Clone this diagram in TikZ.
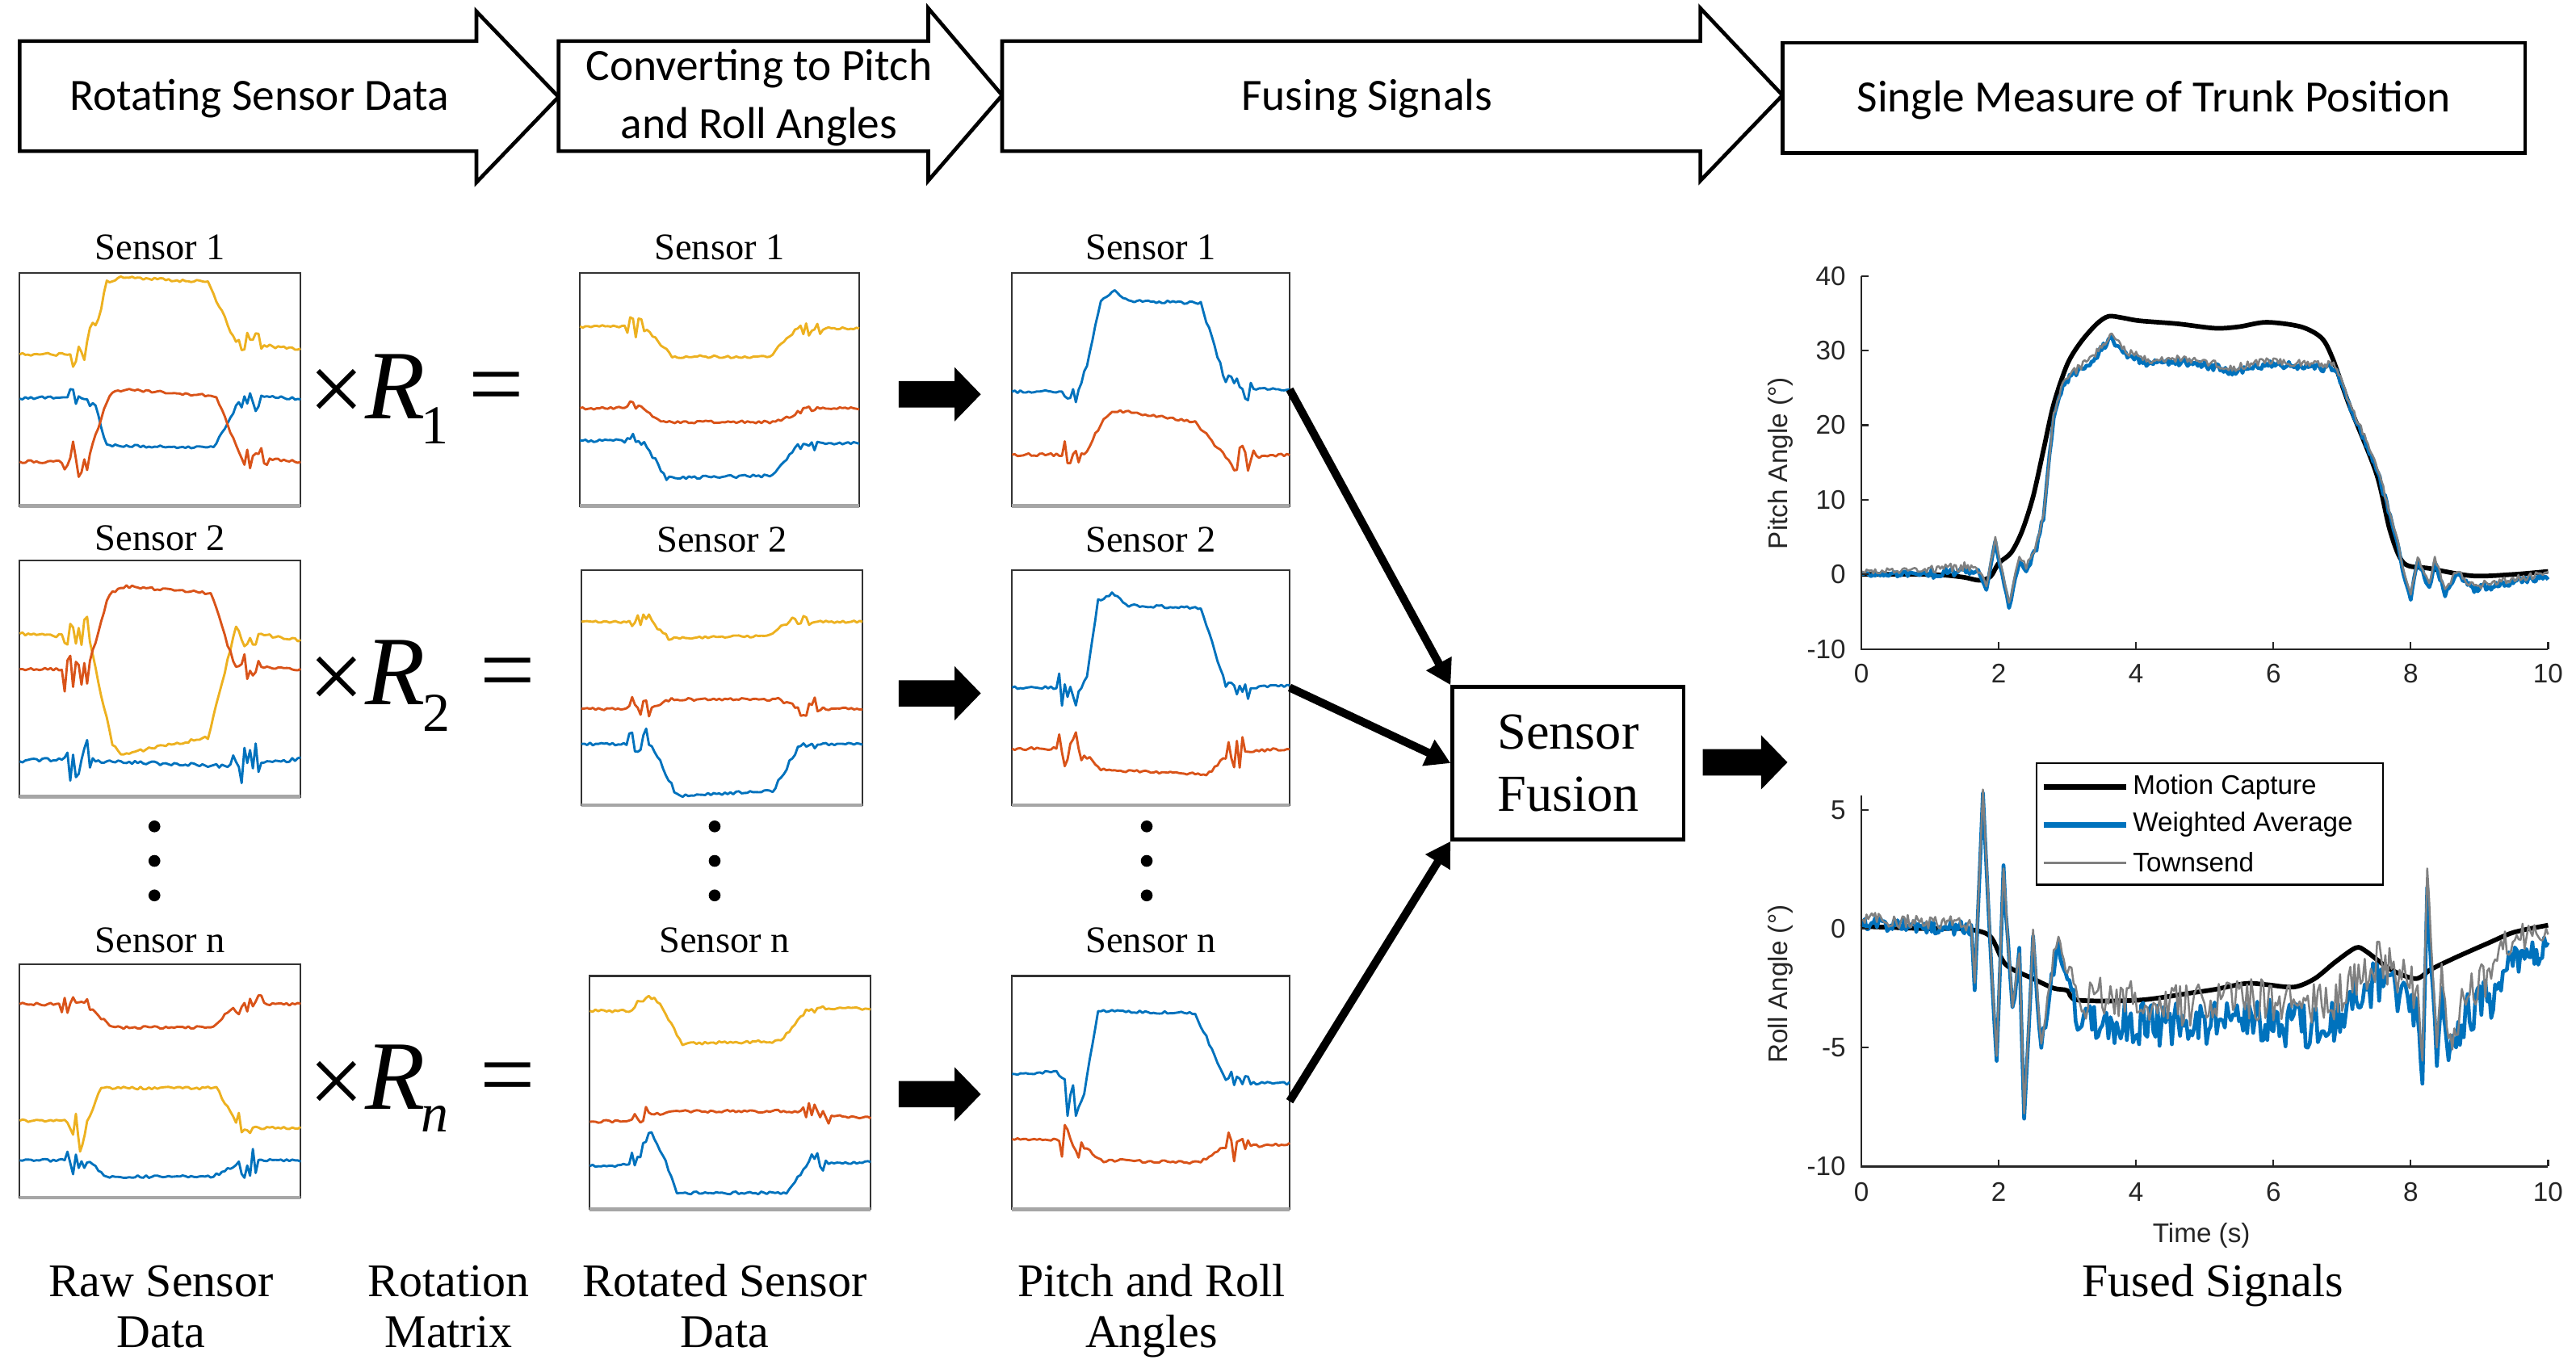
\documentclass[tikz,border=0pt]{standalone}
\usepackage{fontspec}
\setmainfont{Liberation Serif}
\newfontfamily\calib{Carlito}
\newfontfamily\arial{Liberation Sans}
\usetikzlibrary{arrows.meta}
\definecolor{mblue}{HTML}{0072BD}
\definecolor{mred}{HTML}{D95319}
\definecolor{myel}{HTML}{EDB120}
\definecolor{mgray}{HTML}{808080}
\definecolor{axc}{HTML}{262626}
\tikzset{
 banner/.style={draw=black, line width=1.3pt, fill=white, line join=miter},
 bantext/.style={font=\calib\fontsize{15.5}{20.4}\selectfont, inner sep=0pt, align=center},
 panelbox/.style={draw=black!80, line width=0.6pt, inner sep=0pt, outer sep=0pt},
 panelbottom/.style={draw=black!35, line width=1.3pt},
 sigline/.style={line width=0.8pt, line join=round},
 slabel/.style={font=\fontsize{13}{13}\selectfont, inner sep=0pt},
 blabel/.style={font=\fontsize{16.2}{16.2}\selectfont, inner sep=0pt},
 bigm/.style={font=\fontsize{34}{34}\selectfont, inner sep=0pt},
 subm/.style={font=\fontsize{19}{19}\selectfont, inner sep=0pt},
 conn/.style={line width=2.8pt, -{Triangle[length=8.5pt,width=9.5pt]}},
 axisc/.style={draw=axc, line width=0.6pt},
 ticklab/.style={font=\arial\fontsize{9.3}{9.3}\selectfont, text=axc, inner sep=0pt},
 mcline/.style={black, line width=1.6pt, line join=round},
 waline/.style={mblue, line width=1.3pt, line join=round},
 tsline/.style={mgray, line width=0.7pt, line join=round},
}
% noisy piecewise-linear signal: style, start point, offset, segment list
\newcommand{\nsig}[4]{%
  \draw[#1] #2 \foreach \ta/\va/\tb/\vb/\nn/\am in #4 {
    \foreach \k in {1,...,\nn} {
      -- ({\ta+(\tb-\ta)*\k/\nn},{\va+(\vb-(\va))*\k/\nn+\am*rand+#3})
    }
  };}
\newcommand{\mypanel}[5]{%
  \node[panelbox, minimum width=#4*0.02cm, minimum height=#5*0.02cm, anchor=north west] (#1) at (#2,#3) {};
  \draw[panelbottom] (#1.south west) -- (#1.south east);}
% block arrow: x, y (centre line), shaft length
\newcommand{\blockarr}[3]{\fill[black] (#1,#2) ++(0,-8) -- ++(#3,0) -- ++(0,-8.5) -- ++(16,16.5) -- ++(-16,16.5) -- ++(0,-8.5) -- ++(-#3,0) -- cycle;}
\newcommand{\pitchsegs}{0/0/1.0/0.1/40/0.35, 1.0/0.1/1.5/0.6/20/0.7, 1.5/0.6/1.7/0.2/8/0.5, 1.7/0.2/1.82/-1.8/4/0.3, 1.82/-1.8/1.95/4.3/4/0.3, 1.95/4.3/2.05/0/3/0.3, 2.05/0/2.15/-4.5/3/0.3, 2.15/-4.5/2.3/2/5/0.4, 2.3/2/2.4/0.5/3/0.4, 2.4/0.5/2.55/3.5/5/0.5, 2.55/3.5/2.65/7.7/4/0.5, 2.65/7.7/2.8/21/5/0.5, 2.8/21/2.96/25.9/6/0.5, 2.96/25.9/3.2/27.4/10/0.5, 3.2/27.4/3.43/29.3/9/0.5, 3.43/29.3/3.62/31.7/8/0.5, 3.62/31.7/3.9/29.3/11/0.5, 3.9/29.3/4.2/28.2/12/0.5, 4.2/28.2/4.5/28.6/12/0.5, 4.5/28.6/5.15/27.8/26/0.5, 5.15/27.8/5.4/27.2/10/0.5, 5.4/27.2/5.9/28.2/20/0.5, 5.9/28.2/6.9/27.6/40/0.5, 6.9/27.6/7.1/22.8/8/0.4, 7.1/22.8/7.5/14.3/16/0.4, 7.5/14.3/7.8/4.6/12/0.4, 7.8/4.6/7.9/0/4/0.4, 7.9/0/8.0/-3.3/4/0.3, 8.0/-3.3/8.1/1.9/4/0.3, 8.1/1.9/8.27/-2/7/0.4, 8.27/-2/8.35/1.9/3/0.3, 8.35/1.9/8.5/-2.7/6/0.4, 8.5/-2.7/8.66/0/6/0.4, 8.66/0/8.9/-2/10/0.5, 8.9/-2/9.44/-1.2/22/0.5, 9.44/-1.2/10/-0.3/22/0.5}
\newcommand{\rollsegs}{0/0.2/1.6/0/64/0.3, 1.6/0/1.65/-2.5/2/0.1, 1.65/-2.5/1.77/5.7/3/0.1, 1.77/5.7/1.9/-2/3/0.2, 1.9/-2/1.97/-5.6/2/0.1, 1.97/-5.6/2.07/2.5/3/0.2, 2.07/2.5/2.2/-3.6/4/0.3, 2.2/-3.6/2.3/-1/3/0.3, 2.3/-1/2.37/-8/2/0.1, 2.37/-8/2.5/-0.5/4/0.3, 2.5/-0.5/2.62/-5/4/0.3, 2.62/-5/2.8/-1.5/6/0.5, 2.8/-1.5/2.87/-0.5/2/0.2, 2.87/-0.5/3.0/-2/5/0.5, 3.0/-2/3.15/-3.8/5/0.6, 3.15/-3.8/4.7/-4.1/52/0.95, 4.7/-4.1/5.5/-3.8/27/0.95, 5.5/-3.8/6.5/-4.1/34/0.95, 6.5/-4.1/7.0/-3.7/17/0.95, 7.0/-3.7/7.45/-2.3/15/0.95, 7.45/-2.3/7.75/-2.6/10/0.95, 7.75/-2.6/8.1/-3.5/12/0.9, 8.1/-3.5/8.17/-6.5/3/0.2, 8.17/-6.5/8.24/1.6/3/0.2, 8.24/1.6/8.38/-5.6/5/0.3, 8.38/-5.6/8.45/-2.5/3/0.3, 8.45/-2.5/8.55/-5.7/4/0.3, 8.55/-5.7/8.8/-3.7/9/0.8, 8.8/-3.7/9.2/-2.8/14/0.9, 9.2/-2.8/9.4/-1.5/7/0.7, 9.4/-1.5/10/-0.8/21/0.6}
\begin{document}
\begin{tikzpicture}[x=0.02cm,y=-0.02cm]
\pgfmathsetseed{4711}
\useasboundingbox[fill=white] (0,0) rectangle (1568,830);

% ---------- top banner ----------
\draw[banner] (12,25) -- (290,25) -- (290,7) -- (340,59) -- (290,111) -- (290,92) -- (12,92) -- cycle;
\draw[banner] (340,25) -- (565,25) -- (565,5) -- (610,58) -- (565,110) -- (565,92) -- (340,92) -- cycle;
\draw[banner] (610,25) -- (1035,25) -- (1035,5) -- (1085,58) -- (1035,110) -- (1035,92) -- (610,92) -- cycle;
\draw[banner] (1085,26) rectangle (1537,93);
\node[bantext, anchor=base] (t1) at (158,67) {Rotating Sensor Data};
\node[bantext] (t2) at (462,59.5) {Converting to Pitch\\and Roll Angles};
\node[bantext, anchor=base] (t3) at (832,67) {Fusing Signals};
\node[bantext, anchor=base] (t4) at (1311,68) {Single Measure of Trunk Position};

% ---------- panels ----------
\mypanel{raw1}{12}{166}{171}{142}
\mypanel{raw2}{12}{341}{171}{144}
\mypanel{rawn}{12}{587}{171}{142}
\mypanel{rot1}{353}{166}{170}{142}
\mypanel{rot2}{354}{347}{171}{143}
\mypanel{rotn}{359}{594}{171}{142}
\mypanel{pr1}{616}{166}{169}{142}
\mypanel{pr2}{616}{347}{169}{143}
\mypanel{prn}{616}{594}{169}{142}

% raw sensor 1
\begin{scope}[shift={(12,166)},xscale=171,yscale=142]
\nsig{sigline,myel}{(0,0.35)}{0}{{0/0.35/0.17/0.35/17/0.006, 0.17/0.35/0.23/0.36/6/0.06, 0.23/0.36/0.25/0.24/2/0.01, 0.25/0.24/0.28/0.2/3/0.02, 0.28/0.2/0.31/0.04/3/0.01, 0.31/0.04/0.36/0.02/5/0.008, 0.36/0.02/0.67/0.04/31/0.006, 0.67/0.04/0.77/0.30/10/0.008, 0.77/0.30/0.86/0.31/9/0.05, 0.86/0.31/1/0.33/14/0.007}}
\nsig{sigline,mblue}{(0,0.54)}{0}{{0/0.54/0.17/0.53/17/0.006, 0.17/0.53/0.26/0.53/9/0.05, 0.26/0.53/0.31/0.74/5/0.01, 0.31/0.74/0.69/0.75/38/0.006, 0.69/0.75/0.78/0.55/9/0.01, 0.78/0.55/0.86/0.53/8/0.06, 0.86/0.53/1/0.54/14/0.006}}
\nsig{sigline,mred}{(0,0.81)}{0}{{0/0.81/0.15/0.81/15/0.006, 0.15/0.81/0.24/0.81/9/0.09, 0.24/0.81/0.32/0.52/8/0.01, 0.32/0.52/0.37/0.5/5/0.006, 0.37/0.5/0.7/0.53/33/0.006, 0.7/0.53/0.79/0.8/9/0.01, 0.79/0.8/0.88/0.8/9/0.05, 0.88/0.8/1/0.81/12/0.006}}
\end{scope}
% rotated sensor 1
\begin{scope}[shift={(353,166)},xscale=170,yscale=142]
\nsig{sigline,myel}{(0,0.23)}{0}{{0/0.23/0.15/0.23/15/0.006, 0.15/0.23/0.23/0.23/8/0.05, 0.23/0.23/0.33/0.36/10/0.01, 0.33/0.36/0.68/0.36/35/0.006, 0.68/0.36/0.77/0.25/9/0.008, 0.77/0.25/0.86/0.24/9/0.03, 0.86/0.24/1/0.24/14/0.006}}
\nsig{sigline,mred}{(0,0.58)}{0}{{0/0.58/0.15/0.58/15/0.006, 0.15/0.58/0.22/0.58/7/0.035, 0.22/0.58/0.3/0.64/8/0.008, 0.3/0.64/0.7/0.64/40/0.006, 0.7/0.64/0.78/0.6/8/0.008, 0.78/0.6/0.84/0.58/6/0.025, 0.84/0.58/1/0.58/16/0.006}}
\nsig{sigline,mblue}{(0,0.72)}{0}{{0/0.72/0.15/0.72/15/0.006, 0.15/0.72/0.22/0.71/7/0.04, 0.22/0.71/0.31/0.88/9/0.01, 0.31/0.88/0.69/0.87/38/0.006, 0.69/0.87/0.78/0.74/9/0.008, 0.78/0.74/0.84/0.73/6/0.045, 0.84/0.73/1/0.73/16/0.006}}
\end{scope}
% pitch/roll 1
\begin{scope}[shift={(616,166)},xscale=169,yscale=142]
\nsig{sigline,mblue}{(0,0.51)}{0}{{0/0.51/0.17/0.51/17/0.006, 0.17/0.51/0.23/0.53/6/0.06, 0.23/0.53/0.27/0.4/4/0.01, 0.27/0.4/0.32/0.12/5/0.008, 0.32/0.12/0.37/0.08/5/0.008, 0.37/0.08/0.42/0.12/5/0.006, 0.42/0.12/0.68/0.13/26/0.006, 0.68/0.13/0.77/0.47/9/0.01, 0.77/0.47/0.86/0.5/9/0.06, 0.86/0.5/1/0.5/14/0.006}}
\nsig{sigline,mred}{(0,0.78)}{0}{{0/0.78/0.17/0.78/17/0.006, 0.17/0.78/0.26/0.8/9/0.07, 0.26/0.8/0.33/0.62/7/0.01, 0.33/0.62/0.38/0.59/5/0.008, 0.38/0.59/0.66/0.64/28/0.007, 0.66/0.64/0.78/0.8/12/0.01, 0.78/0.8/0.87/0.79/9/0.06, 0.87/0.79/1/0.78/13/0.006}}
\end{scope}
% raw sensor 2
\begin{scope}[shift={(12,341)},xscale=171,yscale=144]
\nsig{sigline,myel}{(0,0.31)}{0}{{0/0.31/0.15/0.32/15/0.007, 0.15/0.32/0.24/0.3/9/0.08, 0.24/0.3/0.33/0.78/9/0.01, 0.33/0.78/0.36/0.82/3/0.008, 0.36/0.82/0.67/0.75/31/0.007, 0.67/0.75/0.76/0.33/9/0.01, 0.76/0.33/0.84/0.31/8/0.05, 0.84/0.31/1/0.34/16/0.007}}
\nsig{sigline,mred}{(0,0.46)}{0}{{0/0.46/0.15/0.46/15/0.006, 0.15/0.46/0.24/0.47/9/0.1, 0.24/0.47/0.32/0.14/8/0.01, 0.32/0.14/0.37/0.11/5/0.008, 0.37/0.11/0.68/0.14/31/0.006, 0.68/0.14/0.77/0.46/9/0.01, 0.77/0.46/0.86/0.45/9/0.06, 0.86/0.45/1/0.46/14/0.006}}
\nsig{sigline,mblue}{(0,0.85)}{0}{{0/0.85/0.16/0.84/16/0.008, 0.16/0.84/0.26/0.85/10/0.09, 0.26/0.85/0.75/0.87/49/0.008, 0.75/0.87/0.85/0.86/10/0.09, 0.85/0.86/1/0.84/15/0.008}}
\end{scope}
% rotated sensor 2
\begin{scope}[shift={(354,347)},xscale=171,yscale=143]
\nsig{sigline,myel}{(0,0.22)}{0}{{0/0.22/0.17/0.22/17/0.005, 0.17/0.22/0.24/0.21/7/0.025, 0.24/0.21/0.31/0.29/7/0.008, 0.31/0.29/0.66/0.28/35/0.005, 0.66/0.28/0.74/0.22/8/0.008, 0.74/0.22/0.82/0.22/8/0.025, 0.82/0.22/1/0.22/18/0.005}}
\nsig{sigline,mred}{(0,0.59)}{0}{{0/0.59/0.16/0.59/16/0.006, 0.16/0.59/0.24/0.59/8/0.05, 0.24/0.59/0.32/0.55/8/0.008, 0.32/0.55/0.7/0.55/38/0.006, 0.7/0.55/0.76/0.58/6/0.008, 0.76/0.58/0.84/0.59/8/0.05, 0.84/0.59/1/0.59/16/0.006}}
\nsig{sigline,mblue}{(0,0.74)}{0}{{0/0.74/0.16/0.74/16/0.006, 0.16/0.74/0.24/0.72/8/0.06, 0.24/0.72/0.33/0.94/9/0.01, 0.33/0.94/0.35/0.96/2/0.006, 0.35/0.96/0.68/0.94/33/0.006, 0.68/0.94/0.78/0.74/10/0.01, 0.78/0.74/0.84/0.74/6/0.02, 0.84/0.74/1/0.74/16/0.006}}
\end{scope}
% pitch/roll 2
\begin{scope}[shift={(616,347)},xscale=169,yscale=143]
\nsig{sigline,mblue}{(0,0.5)}{0}{{0/0.5/0.16/0.5/16/0.006, 0.16/0.5/0.24/0.53/8/0.08, 0.24/0.53/0.27/0.45/3/0.01, 0.27/0.45/0.31/0.13/4/0.008, 0.31/0.13/0.36/0.1/5/0.006, 0.36/0.1/0.42/0.15/6/0.006, 0.42/0.15/0.68/0.16/26/0.006, 0.68/0.16/0.77/0.49/9/0.01, 0.77/0.49/0.85/0.5/8/0.05, 0.85/0.5/1/0.49/15/0.006}}
\nsig{sigline,mred}{(0,0.76)}{0}{{0/0.76/0.16/0.76/16/0.006, 0.16/0.76/0.25/0.77/9/0.08, 0.25/0.77/0.32/0.85/7/0.01, 0.32/0.85/0.7/0.87/38/0.006, 0.7/0.87/0.77/0.8/7/0.01, 0.77/0.8/0.85/0.77/8/0.07, 0.85/0.77/1/0.76/15/0.006}}
\end{scope}
% raw sensor n
\begin{scope}[shift={(12,587)},xscale=171,yscale=142]
\nsig{sigline,mred}{(0,0.17)}{0}{{0/0.17/0.14/0.17/14/0.006, 0.14/0.17/0.24/0.18/10/0.04, 0.24/0.18/0.33/0.27/9/0.008, 0.33/0.27/0.68/0.27/35/0.006, 0.68/0.27/0.76/0.19/8/0.008, 0.76/0.19/0.86/0.17/10/0.04, 0.86/0.17/1/0.17/14/0.006}}
\nsig{sigline,myel}{(0,0.67)}{0}{{0/0.67/0.16/0.67/16/0.006, 0.16/0.67/0.19/0.72/3/0.01, 0.19/0.72/0.2/0.64/1/0, 0.2/0.64/0.215/0.81/2/0.01, 0.215/0.81/0.24/0.68/3/0.01, 0.24/0.68/0.29/0.53/5/0.008, 0.29/0.53/0.7/0.53/41/0.006, 0.7/0.53/0.77/0.67/7/0.01, 0.77/0.67/0.83/0.7/6/0.04, 0.83/0.7/1/0.7/17/0.006}}
\nsig{sigline,mblue}{(0,0.84)}{0}{{0/0.84/0.16/0.84/16/0.006, 0.16/0.84/0.25/0.85/9/0.06, 0.25/0.85/0.31/0.91/6/0.008, 0.31/0.91/0.69/0.91/38/0.006, 0.69/0.91/0.78/0.85/9/0.008, 0.78/0.85/0.84/0.84/6/0.07, 0.84/0.84/1/0.84/16/0.006}}
\end{scope}
% rotated sensor n
\begin{scope}[shift={(359,594)},xscale=171,yscale=142]
\nsig{sigline,myel}{(0,0.15)}{0}{{0/0.15/0.14/0.15/14/0.006, 0.14/0.15/0.21/0.08/7/0.02, 0.21/0.08/0.25/0.12/4/0.01, 0.25/0.12/0.33/0.29/8/0.008, 0.33/0.29/0.68/0.28/35/0.006, 0.68/0.28/0.77/0.15/9/0.008, 0.77/0.15/0.84/0.14/7/0.02, 0.84/0.14/1/0.14/16/0.006}}
\nsig{sigline,mred}{(0,0.625)}{0}{{0/0.625/0.15/0.62/15/0.006, 0.15/0.62/0.22/0.6/7/0.05, 0.22/0.6/0.3/0.58/8/0.008, 0.3/0.58/0.75/0.58/45/0.006, 0.75/0.58/0.85/0.6/10/0.05, 0.85/0.6/1/0.61/15/0.006}}
\nsig{sigline,mblue}{(0,0.815)}{0}{{0/0.815/0.14/0.81/14/0.006, 0.14/0.81/0.22/0.7/8/0.05, 0.22/0.7/0.26/0.76/4/0.02, 0.26/0.76/0.31/0.93/5/0.008, 0.31/0.93/0.7/0.93/39/0.006, 0.7/0.93/0.78/0.8/8/0.008, 0.78/0.8/0.84/0.8/6/0.05, 0.84/0.8/1/0.8/16/0.006}}
\end{scope}
% pitch/roll n
\begin{scope}[shift={(616,594)},xscale=169,yscale=142]
\nsig{sigline,mblue}{(0,0.42)}{0}{{0/0.42/0.16/0.41/16/0.006, 0.16/0.41/0.19/0.44/3/0.01, 0.19/0.44/0.2/0.6/1/0, 0.2/0.6/0.22/0.45/2/0.02, 0.22/0.45/0.23/0.6/1/0, 0.23/0.6/0.26/0.5/3/0.01, 0.26/0.5/0.31/0.15/5/0.008, 0.31/0.15/0.66/0.16/35/0.006, 0.66/0.16/0.77/0.45/11/0.01, 0.77/0.45/0.85/0.46/8/0.06, 0.85/0.46/1/0.46/15/0.006}}
\nsig{sigline,mred}{(0,0.7)}{0}{{0/0.7/0.16/0.7/16/0.006, 0.16/0.7/0.25/0.73/9/0.08, 0.25/0.73/0.33/0.79/8/0.01, 0.33/0.79/0.68/0.8/35/0.006, 0.68/0.8/0.76/0.74/8/0.01, 0.76/0.74/0.85/0.73/9/0.07, 0.85/0.73/1/0.72/15/0.006}}
\end{scope}

% ---------- sensor labels ----------
\node[slabel, anchor=base] (lraw1) at (97.5,158) {Sensor 1};
\node[slabel, anchor=base] (lraw2) at (97.5,335) {Sensor 2};
\node[slabel, anchor=base] (lrawn) at (97.5,580) {Sensor n};
\node[slabel, anchor=base] (lrot1) at (438,158) {Sensor 1};
\node[slabel, anchor=base] (lrot2) at (439.5,336) {Sensor 2};
\node[slabel, anchor=base] (lrotn) at (441,580) {Sensor n};
\node[slabel, anchor=base] (lpr1) at (700.5,158) {Sensor 1};
\node[slabel, anchor=base] (lpr2) at (700.5,336) {Sensor 2};
\node[slabel, anchor=base] (lprn) at (700.5,580) {Sensor n};

% dots
\foreach \xx in {94,435,698}{
  \foreach \yy in {503,524,545}{
    \fill (\xx,\yy) circle[radius=3.6];
  }
}

% ---------- x R = ----------
\node[bigm] (x1) at (205,241) {×};
\node[bigm, anchor=base west] (r1) at (222,255) {\textit{R}};
\node[subm, anchor=base west] (s1) at (256,270) {1};
\node[bigm] (e1) at (302,240) {=};
\node[bigm] (x2) at (205,416) {×};
\node[bigm, anchor=base west] (r2) at (222,429) {\textit{R}};
\node[subm, anchor=base west] (s2) at (257,445) {2};
\node[bigm] (e2) at (309,414) {=};
\node[bigm] (xn) at (205,662) {×};
\node[bigm, anchor=base west] (rn) at (222,675) {\textit{R}};
\node[subm, anchor=base west] (sn) at (256,689) {\textit{n}};
\node[bigm] (en) at (309,660.5) {=};

% ---------- block arrows ----------
\blockarr{547}{240}{34}
\blockarr{547}{422}{34}
\blockarr{547}{666}{34}
\blockarr{1036.5}{464}{35.5}

% ---------- sensor fusion ----------
\node[draw, line width=1.2pt, minimum width=2.82cm, minimum height=1.86cm, align=center,
      font=\fontsize{18}{21.5}\selectfont, inner sep=0pt] (fus) at (954.5,464.5) {Sensor\\Fusion};
\draw[conn] (pr1.east) -- (fus.north west);
\draw[conn] (pr2.east) -- (fus.west);
\draw[conn] ([yshift=-3pt]prn.east) -- (fus.south west);

% ---------- bottom labels ----------
\node[blabel, anchor=base] (b1a) at (98,789) {Raw Sensor};
\node[blabel, anchor=base] (b1b) at (98,820) {Data};
\node[blabel, anchor=base] (b2a) at (273,789) {Rotation};
\node[blabel, anchor=base] (b2b) at (273,820) {Matrix};
\node[blabel, anchor=base] (b3a) at (441,789) {Rotated Sensor};
\node[blabel, anchor=base] (b3b) at (441,820) {Data};
\node[blabel, anchor=base] (b4a) at (701,789) {Pitch and Roll};
\node[blabel, anchor=base] (b4b) at (701,820) {Angles};
\node[blabel, anchor=base] (b5) at (1347,789) {Fused Signals};

% ---------- pitch plot ----------
\begin{scope}[shift={(1133,349.6)},xscale=41.8,yscale=-4.54]
\draw[mcline] plot[smooth] coordinates {(0,0) (0.8,0) (1.2,-0.1) (1.5,-0.4) (1.72,-0.8) (1.88,-0.3) (2.0,1.5) (2.18,2.9) (2.34,5.8) (2.5,10.4) (2.65,16.6) (2.8,22.8) (3.0,28.2) (3.2,31.2) (3.43,33.6) (3.6,34.6) (3.8,34.4) (4.05,34) (4.6,33.6) (5.15,33) (5.5,33.2) (5.9,33.8) (6.4,33.2) (6.7,31.7) (6.86,29) (7.1,22.8) (7.5,13.5) (7.7,5.8) (7.9,1.5) (8.27,0.8) (8.9,-0.2) (9.5,0.0) (10,0.4)};
\nsig{waline}{(0,0)}{0}{\pitchsegs}
\nsig{tsline}{(0,0.4)}{0.45}{\pitchsegs}
\draw[axisc] (0,40) -- (0,-10) -- (10,-10);
\foreach \v in {-10,0,10,20,30,40}{
  \draw[axisc] (0,\v) -- (0.1,\v);
  \node[ticklab, anchor=east] (py\v) at (-0.22,\v) {\v};
}
\foreach \u in {0,2,4,6,8,10}{
  \draw[axisc] (\u,-10) -- (\u,-9.1);
  \node[ticklab, anchor=north] (px\u) at (\u,-12) {\u};
}
\end{scope}
\node[ticklab, rotate=90] (plab) at (1084,282) {Pitch Angle (°)};

% ---------- roll plot ----------
\begin{scope}[shift={(1133,565.3)},xscale=41.8,yscale=-14.47]
\draw[mcline] plot[smooth] coordinates {(0,0.1) (0.5,0.05) (1.0,0.0) (1.5,0.0) (1.87,-0.3) (2.1,-1.5) (2.5,-2.1) (2.8,-2.5) (3.0,-2.6) (3.15,-3.0) (4.05,-3.0) (4.8,-2.7) (5.15,-2.55) (5.6,-2.3) (5.9,-2.35) (6.3,-2.45) (6.6,-2.1) (6.9,-1.4) (7.2,-0.8) (7.35,-0.95) (7.7,-1.7) (8.07,-2.1) (8.3,-1.7) (8.66,-1.2) (9.13,-0.6) (9.5,-0.15) (10,0.15)};
\nsig{waline}{(0,0.2)}{0}{\rollsegs}
\nsig{tsline}{(0,0.35)}{0.2+0.7*(\ta>2.95)*(\ta<9.5)}{\rollsegs}
\draw[axisc] (0,5.6) -- (0,-10) -- (10,-10);
\foreach \v in {-10,-5,0,5}{
  \draw[axisc] (0,\v) -- (0.1,\v);
  \node[ticklab, anchor=east] (ry\v) at (-0.22,\v) {\v};
}
\foreach \u in {0,2,4,6,8,10}{
  \draw[axisc] (\u,-10) -- (\u,-9.72);
  \node[ticklab, anchor=north] (rx\u) at (\u,-10.65) {\u};
}
\end{scope}
\node[ticklab, rotate=90] (rlab) at (1084,599) {Roll Angle (°)};
\node[ticklab] (tlab) at (1340,752) {Time (s)};

% legend
\node[draw=black, fill=white, line width=0.6pt, minimum width=4.22cm, minimum height=1.48cm, anchor=north west, inner sep=0pt] (leg) at (1239,464) {};
\draw[black, line width=1.8pt] (1244,479) -- (1294,479);
\draw[mblue, line width=1.8pt] (1244,502) -- (1294,502);
\draw[mgray, line width=0.8pt] (1244,525) -- (1294,525);
\node[ticklab, anchor=west, text=black] (lg1) at (1298,479) {Motion Capture};
\node[ticklab, anchor=west, text=black] (lg2) at (1298,502) {Weighted Average};
\node[ticklab, anchor=west, text=black] (lg3) at (1298,525) {Townsend};
\end{tikzpicture}
\end{document}
